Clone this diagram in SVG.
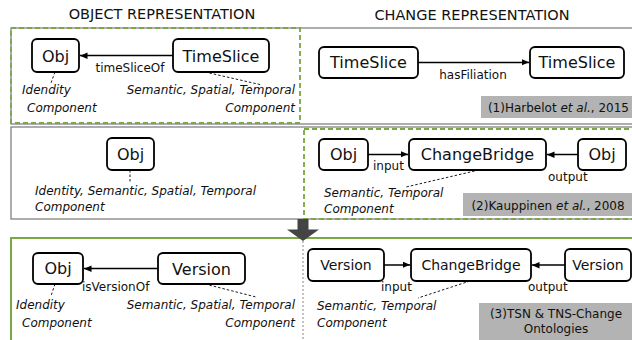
<svg xmlns="http://www.w3.org/2000/svg" width="632" height="340" viewBox="0 0 632 340">
<defs>
<marker id="ah" markerUnits="userSpaceOnUse" markerWidth="8" markerHeight="7" refX="7.5" refY="3.5" orient="auto"><path d="M0,0 L7.5,3.25 L0,6.5 z" fill="#000"/></marker>
<style>
text{font-family:"DejaVu Sans","Liberation Sans",sans-serif;fill:#111}
.h{font-size:14.5px}
.n{font-size:16px;text-anchor:middle}
.n2{font-size:14px;text-anchor:middle}
.l{font-size:12px}
.i{font-size:12px;font-style:italic}
.node{fill:#fff;stroke:#000;stroke-width:1.8}
.edge{stroke:#000;stroke-width:1.5;fill:none;marker-end:url(#ah)}
.dash{stroke:#000;stroke-width:0.9;stroke-dasharray:2.5,2;fill:none}
.gbox{fill:#b3b3b3}
.frame{fill:none;stroke:#777;stroke-width:1.2}
.gd{fill:none;stroke:#7aa843;stroke-width:1.8;stroke-dasharray:5,3}
</style>
</defs>
<rect width="632" height="340" fill="#fff"/>
<text class="h" x="162" y="19" text-anchor="middle">OBJECT REPRESENTATION</text>
<text class="h" x="472" y="20" text-anchor="middle">CHANGE REPRESENTATION</text>
<g id="frames">
<rect class="frame" x="11" y="28" width="630" height="96"/>
<rect class="gd" x="11" y="28" width="289" height="95"/>
<rect class="frame" x="11" y="127" width="630" height="92"/>
<rect class="gd" x="304" y="129" width="337" height="90"/>
<rect x="11" y="238" width="630" height="110" fill="none" stroke="#7aa843" stroke-width="2"/>
<line x1="303" y1="241" x2="303" y2="340" stroke="#888" stroke-width="1" stroke-dasharray="2,2"/>
<path d="M297.5,219 H308.5 V229.5 H319 L303,241 L287,229.5 H297.5 Z" fill="#444"/>
</g>
<g id="labels">
<rect class="gbox" x="481" y="96" width="151" height="22"/>
<text class="l" x="629" y="112" text-anchor="end">(1)Harbelot <tspan font-style="italic">et al.</tspan>, 2015</text>
<rect class="gbox" x="463" y="193" width="169" height="23"/>
<text class="l" x="548" y="210" text-anchor="middle">(2)Kauppinen <tspan font-style="italic">et al.</tspan>, 2008</text>
<rect class="gbox" x="479" y="303" width="153" height="40"/>
<text class="l" x="556" y="318" text-anchor="middle">(3)TSN &amp; TNS-Change</text>
<text class="l" x="556" y="333" text-anchor="middle">Ontologies</text>
</g>
<g id="connectors">
<line class="edge" x1="173" y1="55.5" x2="80" y2="55.5"/>
<line class="edge" x1="418" y1="62.5" x2="529" y2="62.5"/>
<line class="edge" x1="368" y1="154.5" x2="408" y2="154.5"/>
<line class="edge" x1="578" y1="154.5" x2="547" y2="154.5"/>
<line class="edge" x1="158" y1="268.5" x2="84" y2="268.5"/>
<line class="edge" x1="384" y1="265" x2="410" y2="265"/>
<line class="edge" x1="565" y1="265" x2="532" y2="265"/>
<path class="dash" d="M55,72 L51,83"/>
<path class="dash" d="M205,72 L262,85"/>
<path class="dash" d="M130,170 L130,183"/>
<path class="dash" d="M479,170 L406,187"/>
<path class="dash" d="M55,284 L51,296"/>
<path class="dash" d="M205,284 L256,297"/>
<path class="dash" d="M470,281 L418,298"/>
<text class="l" x="130" y="72" text-anchor="middle">timeSliceOf</text>
<text class="l" x="473" y="79" text-anchor="middle">hasFiliation</text>
<text class="l" x="373" y="170">input</text>
<text class="l" x="548" y="181" font-size="11px">output</text>
<text class="l" x="82" y="291">isVersionOf</text>
<text class="l" x="381" y="291">input</text>
<text class="l" x="528" y="291">output</text>
</g>
<g id="obj1">
<rect class="node" x="32" y="39" width="47" height="33" rx="5"/>
<text class="n" x="55.5" y="61.5">Obj</text>
<text class="i" x="22" y="94">Idendity</text>
<text class="i" x="27" y="112">Component</text>
</g>
<g id="timeslice1">
<rect class="node" x="173" y="39" width="96" height="33" rx="5"/>
<text class="n" x="221" y="61.5">TimeSlice</text>
<text class="i" x="295" y="94" text-anchor="end">Semantic, Spatial, Temporal</text>
<text class="i" x="295" y="112" text-anchor="end">Component</text>
</g>
<g id="timeslice2">
<rect class="node" x="319" y="47" width="99" height="31" rx="5"/>
<text class="n" x="368.5" y="68">TimeSlice</text>
</g>
<g id="timeslice3">
<rect class="node" x="530" y="47" width="94" height="31" rx="5"/>
<text class="n" x="577" y="68">TimeSlice</text>
</g>
<g id="obj2">
<rect class="node" x="107" y="138" width="47" height="32" rx="5"/>
<text class="n" x="130.5" y="160">Obj</text>
<text class="i" x="35" y="195">Identity, Semantic, Spatial, Temporal</text>
<text class="i" x="35" y="211">Component</text>
</g>
<g id="obj3">
<rect class="node" x="319" y="139" width="49" height="31" rx="5"/>
<text class="n" x="343.5" y="160">Obj</text>
</g>
<g id="changebridge1">
<rect class="node" x="409" y="139" width="137" height="31" rx="5"/>
<text class="n" x="477.5" y="160">ChangeBridge</text>
<text class="i" x="324" y="197">Semantic, Temporal</text>
<text class="i" x="324" y="213">Component</text>
</g>
<g id="obj4">
<rect class="node" x="578" y="139" width="48" height="31" rx="5"/>
<text class="n" x="602" y="160">Obj</text>
</g>
<g id="obj5">
<rect class="node" x="33" y="253" width="50" height="31" rx="5"/>
<text class="n" x="58" y="274">Obj</text>
<text class="i" x="16" y="309">Idendity</text>
<text class="i" x="22" y="327">Component</text>
</g>
<g id="version1">
<rect class="node" x="158" y="253" width="87" height="31" rx="5"/>
<text class="n" x="201.5" y="274.5" font-size="17px">Version</text>
<text class="i" x="295" y="309" text-anchor="end">Semantic, Spatial, Temporal</text>
<text class="i" x="295" y="327" text-anchor="end">Component</text>
</g>
<g id="version2">
<rect class="node" x="308" y="249" width="76" height="32" rx="5"/>
<text class="n2" x="346" y="270">Version</text>
</g>
<g id="changebridge2">
<rect class="node" x="411" y="249" width="120" height="32" rx="5"/>
<text class="n2" x="471" y="270">ChangeBridge</text>
<text class="i" x="317" y="310">Semantic, Temporal</text>
<text class="i" x="317" y="327">Component</text>
</g>
<g id="version3">
<rect class="node" x="565" y="249" width="66" height="32" rx="5"/>
<text class="n2" x="598" y="270">Version</text>
</g>
</svg>
